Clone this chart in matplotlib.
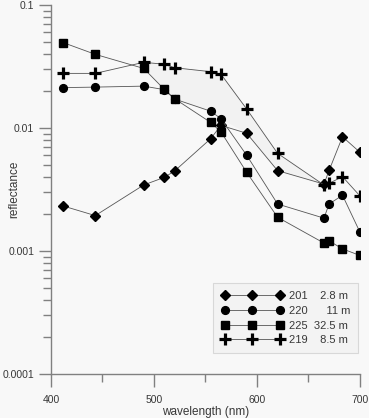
import numpy as np
import matplotlib
matplotlib.use('Agg')
import matplotlib.pyplot as plt
from matplotlib.ticker import FixedLocator, LogLocator, NullFormatter, FuncFormatter

plt.rcParams['font.family'] = ['Liberation Sans', 'DejaVu Sans']

# wavelengths (nm)
wl = [412, 443, 490, 510, 520, 555, 565, 590, 620, 665, 670, 683, 700]

# reflectance per station
r201 = [0.00232, 0.00194, 0.00344, 0.00397, 0.00447, 0.00818, 0.0105, 0.00906,
        0.0045, 0.0035, 0.00452, 0.00849, 0.00634]
r220 = [0.0213, 0.0215, 0.0219, 0.0205, 0.0172, 0.0137, 0.0119, 0.0060,
        0.00241, 0.00185, 0.00241, 0.00284, 0.00142]
r225 = [0.0494, 0.0397, 0.0305, 0.0206, 0.0173, 0.0111, 0.0093, 0.00436,
        0.00188, 0.00116, 0.00121, 0.00104, 0.00092]
r219 = [0.0278, 0.0278, 0.0342, 0.0330, 0.0309, 0.0287, 0.0274, 0.01426,
        0.00622, 0.00344, 0.00355, 0.00402, 0.0028]

labels = ['201    2.8 m', '220      11 m', '225  32.5 m', '219    8.5 m']

bg = '#f8f8f8'
txt = '#383838'
axc = '#808080'

fig = plt.figure(figsize=(3.69, 4.18), dpi=100, facecolor=bg)
ax = fig.add_axes([51/369, 1 - 374/418, 309/369, 369/418])
ax.set_facecolor(bg)

# shaded band between station 219 and the curves below it (490-665 nm)
top_x = wl[2:10]
top_y = r219[2:10]
bot_x = [wl[8], wl[7], wl[6], wl[5], wl[4], wl[3], wl[2]]
bot_y = [r201[8], r201[7], r220[6], r220[5], r225[4], r225[3], r225[2]]
ax.fill(top_x + bot_x, top_y + bot_y, color='#f2f2f2', zorder=1, lw=0)

lc = '#555555'
ax.plot(wl, r201, color=lc, lw=0.6, marker='D', ms=4.6, mfc='black', mec='black',
        label=labels[0], zorder=3)
ax.plot(wl, r220, color=lc, lw=0.6, marker='o', ms=5.6, mfc='black', mec='black',
        label=labels[1], zorder=3)
ax.plot(wl, r225, color=lc, lw=0.6, marker='s', ms=5.2, mfc='black', mec='black',
        label=labels[2], zorder=3)
ax.plot(wl, r219, color=lc, lw=0.6, marker='+', ms=9, mew=2.3, mec='black',
        label=labels[3], zorder=4)

ax.set_yscale('log')
ax.set_xlim(400, 700)
ax.set_ylim(1e-4, 0.1)

ax.xaxis.set_major_locator(FixedLocator([400, 500, 600, 700]))
ax.xaxis.set_minor_locator(FixedLocator([450, 550, 650]))
ax.yaxis.set_major_locator(FixedLocator([1e-4, 1e-3, 1e-2, 1e-1]))
ax.yaxis.set_minor_locator(LogLocator(base=10, subs=np.arange(2, 10)))
ax.yaxis.set_minor_formatter(NullFormatter())
ax.yaxis.set_major_formatter(FuncFormatter(lambda v, p: {1e-4: '0.0001', 1e-3: '0.001',
                                                         1e-2: '0.01', 1e-1: '0.1'}.get(v, '')))

for s in ['top', 'right']:
    ax.spines[s].set_visible(False)
for s in ['left', 'bottom']:
    ax.spines[s].set_color(axc)
    ax.spines[s].set_linewidth(1.0)

ax.tick_params(axis='both', which='major', length=9, width=1.0, color=axc,
               labelsize=7.5, labelcolor=txt, pad=3)
ax.tick_params(axis='both', which='minor', length=5.5, width=1.0, color=axc)
ax.tick_params(axis='x', which='major', pad=6)

ax.set_xlabel('wavelength (nm)', fontsize=8.5, color=txt, labelpad=1)
ax.set_ylabel('reflectance', fontsize=8.5, color=txt)
ax.yaxis.set_label_coords(-0.1, 0.5)

leg = ax.legend(loc='lower right', bbox_to_anchor=(0.994, 0.057), borderaxespad=0,
                numpoints=3, handlelength=5.6, fontsize=8, fancybox=False,
                frameon=True, labelspacing=0.42, handletextpad=0.5,
                borderpad=0.7)
leg.get_frame().set_facecolor('#f3f3f3')
leg.get_frame().set_edgecolor('#d8d8d8')
leg.get_frame().set_linewidth(0.8)
leg.get_frame().set_alpha(1)
for t in leg.get_texts():
    t.set_color(txt)

fig.savefig('out.png', dpi=100, facecolor=bg)
